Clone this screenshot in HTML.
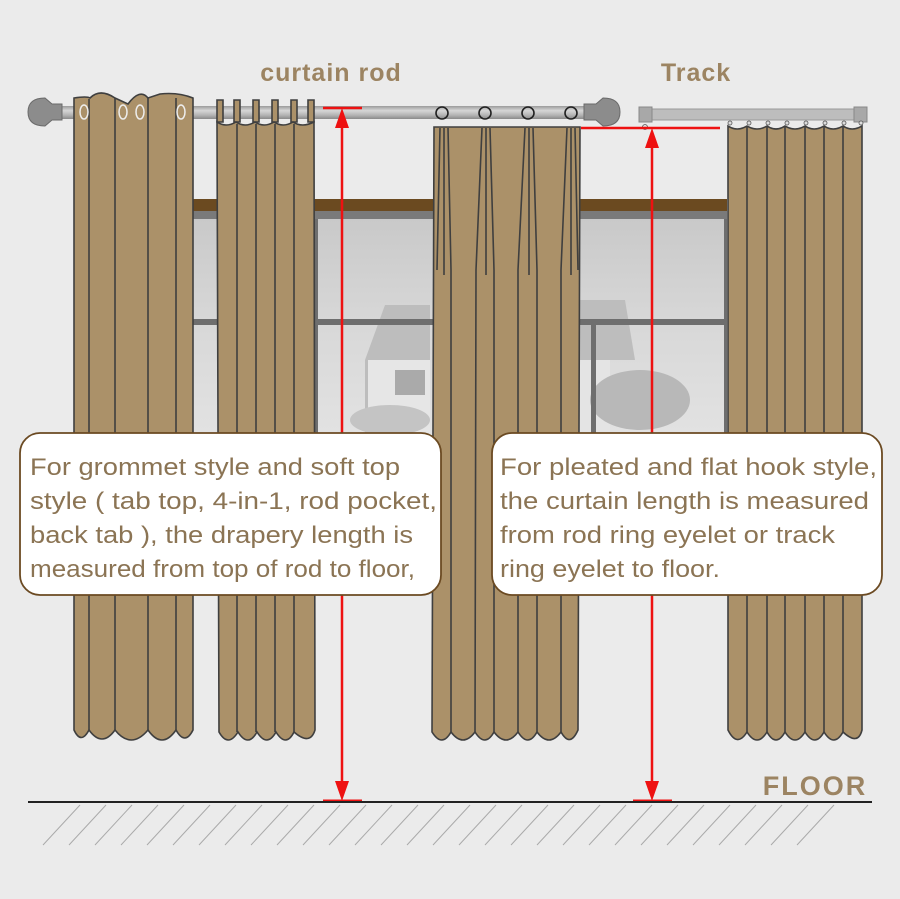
<!DOCTYPE html>
<html><head><meta charset="utf-8"><style>
html,body{margin:0;padding:0;background:#ebebeb}
svg{display:block}
text{font-family:"Liberation Sans",sans-serif}
</style></head><body>
<svg width="900" height="899" viewBox="0 0 900 899" xmlns="http://www.w3.org/2000/svg">
<defs>
<linearGradient id="rod" x1="0" y1="0" x2="0" y2="1">
<stop offset="0" stop-color="#9a9a9a"/><stop offset="0.35" stop-color="#d6d6d6"/><stop offset="0.7" stop-color="#b4b4b4"/><stop offset="1" stop-color="#8a8a8a"/></linearGradient>
<linearGradient id="sky" x1="0" y1="0" x2="0" y2="1">
<stop offset="0" stop-color="#c9c9c9"/><stop offset="0.5" stop-color="#d8d8d8"/><stop offset="1" stop-color="#e2e2e2"/></linearGradient>
</defs>
<rect width="900" height="899" fill="#ebebeb"/>

<!-- window -->
<rect x="190" y="199" width="537" height="12" fill="#6b4a20"/>
<rect x="190" y="211" width="537" height="8" fill="#7a7a7a"/>
<rect x="190" y="219" width="537" height="215" fill="url(#sky)"/>
<!-- house -->
<polygon points="365,360 385,305 430,305 430,440 365,440" fill="#bdbdbd"/>
<rect x="368" y="360" width="62" height="80" fill="#e6e6e6"/>
<rect x="395" y="370" width="30" height="25" fill="#aaa"/>
<polygon points="580,300 625,300 635,360 580,360" fill="#bdbdbd"/>
<rect x="580" y="360" width="30" height="75" fill="#e4e4e4"/>
<ellipse cx="640" cy="400" rx="50" ry="30" fill="#b8b8b8"/>
<ellipse cx="390" cy="420" rx="40" ry="15" fill="#c4c4c4"/>
<rect x="190" y="319" width="537" height="6" fill="#6e6e6e"/>
<rect x="313" y="219" width="5" height="215" fill="#6e6e6e"/>
<rect x="591" y="325" width="5" height="109" fill="#6e6e6e"/>
<rect x="190" y="219" width="3" height="215" fill="#6e6e6e"/>
<rect x="724" y="219" width="3" height="215" fill="#6e6e6e"/>

<!-- rod -->
<rect x="50" y="106" width="545" height="13" fill="url(#rod)"/>
<path d="M28,112 Q28,98 45,98 L52,104 L62,104 L62,120 L52,120 L45,126 Q28,126 28,112Z" fill="#8c8c8c" stroke="#6a6a6a"/>
<path d="M620,112 Q620,98 603,98 L596,104 L584,104 L584,120 L596,120 L603,126 Q620,126 620,112Z" fill="#8c8c8c" stroke="#6a6a6a"/>

<!-- track -->
<rect x="640" y="109" width="225" height="11" fill="#bdbdbd" stroke="#999"/>
<rect x="639" y="107" width="13" height="15" fill="#a8a8a8" stroke="#888"/>
<rect x="854" y="107" width="13" height="15" fill="#a8a8a8" stroke="#888"/>

<g stroke="#3f3f3f" stroke-width="1.6" fill="#ab9169">
<!-- C1 grommet -->
<path d="M74,98 Q87,96 90,98 Q100,88 115,98 L128,104 Q140,88 148,98 L160,94 Q178,92 193,98 L193,730 Q185,746 176,730 Q162,750 148,730 Q131,750 115,730 Q102,748 89,730 Q81,745 74,730Z"/>
<path d="M89,99 V730 M115,98 V730 M148,98 V730 M176,98 V730" fill="none"/>
<!-- C2 tabs -->
<path d="M217,100 h6 v22 h-6z M234,100 h6 v22 h-6z M253,100 h6 v22 h-6z M272,100 h6 v22 h-6z M291,100 h6 v22 h-6z M308,100 h6 v22 h-6z"/>
<path d="M217,122 Q226,128 236,122 Q245,128 255,122 Q264,128 274,122 Q283,128 293,122 Q302,128 314,122 L315,730 Q310,746 294,732 Q286,748 276,732 Q267,748 257,732 Q248,748 238,732 Q228,748 219,732Z"/>
<path d="M237,124 V732 M256,124 V732 M275,124 V732 M294,124 V732" fill="none"/>
<!-- C3 pleated -->
<path d="M434,127 H580 L578,730 Q570,748 561,732 Q549,748 537,732 Q528,748 518,732 Q506,748 494,732 Q485,748 475,732 Q463,748 451,732 Q442,748 432,732Z"/>
<path d="M440,128 L437,270 M444,128 L444,275 M448,128 L451,270 L451,732 M482,128 L476,270 L475,732 M486,128 L486,275 M490,128 L494,270 L494,732 M525,128 L518,270 L518,732 M529,128 L529,275 M533,128 L537,270 L537,732 M567,128 L561,270 L561,732 M571,128 L571,275 M575,128 L578,270" fill="none"/>
<!-- C4 track -->
<path d="M728,126 Q737,132 747,126 Q757,132 767,126 Q776,132 785,126 Q795,132 805,126 Q814,132 824,126 Q833,132 843,126 Q852,132 862,126 L862,730 Q858,746 843,732 Q834,748 824,732 Q815,748 805,732 Q795,748 785,732 Q776,748 767,732 Q757,748 747,732 Q737,748 728,730Z"/>
<path d="M747,127 V732 M767,127 V732 M785,127 V732 M805,127 V732 M824,127 V732 M843,127 V732" fill="none"/>
</g>
<!-- grommet rings -->
<g fill="none" stroke="#eee" stroke-width="1.5">
<ellipse cx="84" cy="112" rx="4" ry="7"/><ellipse cx="123" cy="112" rx="4" ry="7"/><ellipse cx="140" cy="112" rx="4" ry="7"/><ellipse cx="181" cy="112" rx="4" ry="7"/>
</g>
<!-- hook rings -->
<g fill="none" stroke="#222" stroke-width="1.6">
<circle cx="442" cy="113" r="6"/><circle cx="485" cy="113" r="6"/><circle cx="528" cy="113" r="6"/><circle cx="571" cy="113" r="6"/>
</g>
<g fill="#ddd" stroke="#555" stroke-width="0.8">
<circle cx="645" cy="127" r="2.5"/><circle cx="730" cy="123" r="2"/><circle cx="749" cy="123" r="2"/><circle cx="768" cy="123" r="2"/><circle cx="787" cy="123" r="2"/><circle cx="806" cy="123" r="2"/><circle cx="825" cy="123" r="2"/><circle cx="844" cy="123" r="2"/><circle cx="861" cy="123" r="2"/>
</g>

<!-- red measures -->
<g stroke="#ee1111" stroke-width="2.5" fill="none">
<path d="M323,108 H362 M342,126 V785"/>
<path d="M581,128 H720 M652,146 V785"/>
<path d="M323,801 H362 M633,801 H672" stroke-width="3"/>
</g>
<g fill="#ee1111">
<path d="M342,108 L335,128 L349,128Z M652,128 L645,148 L659,148Z M342,801 L335,781 L349,781Z M652,801 L645,781 L659,781Z"/>
</g>

<!-- floor -->
<line x1="28" y1="802" x2="872" y2="802" stroke="#222" stroke-width="2"/>
<g stroke="#aaa" stroke-width="1">
<path d="M80,805 L43,845 M106,805 L69,845 M132,805 L95,845 M158,805 L121,845 M184,805 L147,845 M210,805 L173,845 M236,805 L199,845 M262,805 L225,845 M288,805 L251,845 M314,805 L277,845 M340,805 L303,845 M366,805 L329,845 M392,805 L355,845 M418,805 L381,845 M444,805 L407,845 M470,805 L433,845 M496,805 L459,845 M522,805 L485,845 M548,805 L511,845 M574,805 L537,845 M600,805 L563,845 M626,805 L589,845 M652,805 L615,845 M678,805 L641,845 M704,805 L667,845 M730,805 L693,845 M756,805 L719,845 M782,805 L745,845 M808,805 L771,845 M834,805 L797,845"/>
</g>

<!-- labels -->
<g font-weight="bold" fill="#9c8462">
<text x="331" y="81" font-size="25" text-anchor="middle" letter-spacing="1">curtain rod</text>
<text x="696" y="81" font-size="25" text-anchor="middle" letter-spacing="1">Track</text>
<text x="815" y="795" font-size="27" text-anchor="middle" letter-spacing="2">FLOOR</text>
</g>

<!-- boxes -->
<rect x="20" y="433" width="421" height="162" rx="20" fill="#fff" stroke="#6b4a22" stroke-width="1.8"/>
<rect x="492" y="433" width="390" height="162" rx="20" fill="#fff" stroke="#6b4a22" stroke-width="1.8"/>
<g fill="#8b7454" font-size="24">
<text x="30" y="475" textLength="370" lengthAdjust="spacingAndGlyphs">For grommet style and soft top</text>
<text x="30" y="509" textLength="407" lengthAdjust="spacingAndGlyphs">style ( tab top, 4-in-1, rod pocket,</text>
<text x="30" y="543" textLength="383" lengthAdjust="spacingAndGlyphs">back tab ), the drapery length is</text>
<text x="30" y="577" textLength="385" lengthAdjust="spacingAndGlyphs">measured from top of rod to floor,</text>
<text x="500" y="475" textLength="377" lengthAdjust="spacingAndGlyphs">For pleated and flat hook style,</text>
<text x="500" y="509" textLength="369" lengthAdjust="spacingAndGlyphs">the curtain length is measured</text>
<text x="500" y="543" textLength="335" lengthAdjust="spacingAndGlyphs">from rod ring eyelet or track</text>
<text x="500" y="577" textLength="220" lengthAdjust="spacingAndGlyphs">ring eyelet to floor.</text>
</g>
</svg>
</body></html>
